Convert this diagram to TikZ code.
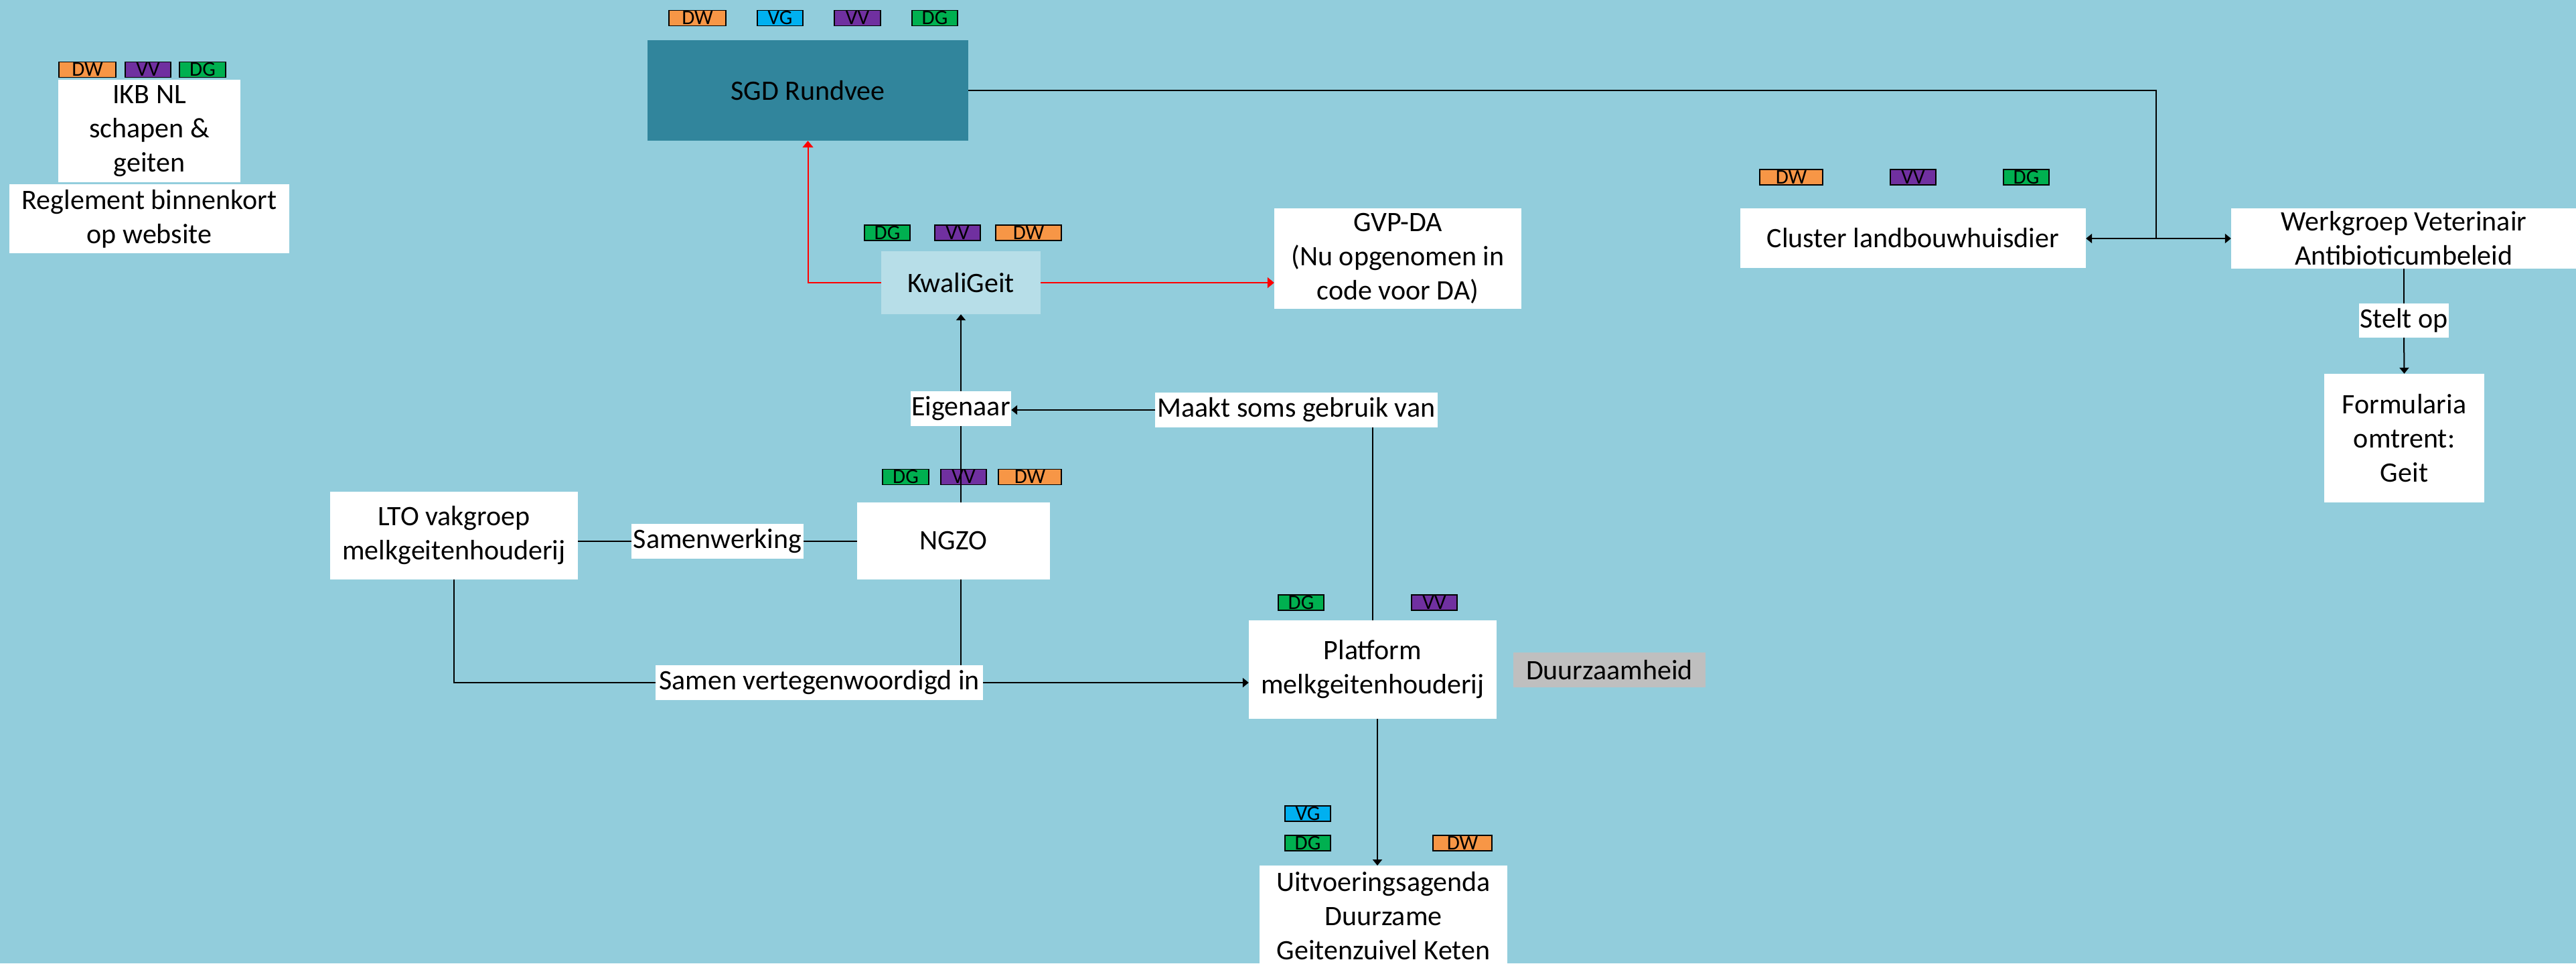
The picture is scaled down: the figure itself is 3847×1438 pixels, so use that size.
\documentclass[tikz,border=0pt]{standalone}
\usepackage{fontspec}
\setmainfont{Carlito}
\usetikzlibrary{arrows.meta,calc}
\definecolor{bgc}{HTML}{92CDDC}
\definecolor{sgdc}{HTML}{31859C}
\definecolor{kwalic}{HTML}{B7DEE8}
\definecolor{dwc}{HTML}{F79646}
\definecolor{vgc}{HTML}{00B0F0}
\definecolor{vvc}{HTML}{7030A0}
\definecolor{dgc}{HTML}{00B050}
\definecolor{grayc}{HTML}{BFBFBF}
\begin{document}
\begin{tikzpicture}[x=1pt,y=-1pt,
  box/.style={fill=white, inner sep=0pt, align=center, font=\fontsize{42}{51}\selectfont},
  tagbox/.style={draw=black, line width=1.5pt, inner sep=0pt, minimum height=23pt, font=\fontsize{31}{31}\selectfont},
  dw/.style={tagbox, fill=dwc},
  vg/.style={tagbox, fill=vgc},
  vv/.style={tagbox, fill=vvc},
  dg/.style={tagbox, fill=dgc},
  conn/.style={draw=black, line width=2pt},
  arr/.style={conn, -{Triangle[width=14pt,length=9pt]}},
  redarr/.style={draw=red, line width=2pt, -{Triangle[width=16pt,length=10pt]}},
]
\fill[bgc] (0,0) rectangle (3847,1438);
\useasboundingbox (0,0) rectangle (3847,1438);
\clip (0,0) rectangle (3847,1438);

% IKB
\node[dw, minimum width=85pt] (t1) at (130.5,104) {DW};
\node[vv, minimum width=68pt] (t2) at (221,104) {VV};
\node[dg, minimum width=69pt] (t3) at (302.5,104) {DG};
\node[box, minimum width=272pt, minimum height=153pt] (ikb) at (223,195.5) {IKB NL\\schapen \&\\geiten};
\node[box, minimum width=418pt, minimum height=103pt] (regl) at (223,326.5) {Reglement binnenkort\\op website};

% SGD
\node[dw, minimum width=85pt] (t4) at (1041.5,27) {DW};
\node[vg, minimum width=68pt] (t5) at (1165,27) {VG};
\node[vv, minimum width=69pt] (t6) at (1280.5,27) {VV};
\node[dg, minimum width=68pt] (t7) at (1396,27) {DG};
\node[box, fill=sgdc, minimum width=479pt, minimum height=150pt] (sgd) at (1206.5,135) {SGD Rundvee};

% KwaliGeit
\node[dg, minimum width=68pt] (t8) at (1325,347.5) {DG};
\node[vv, minimum width=68pt] (t9) at (1430,347.5) {VV};
\node[dw, minimum width=98pt] (t10) at (1536,347.5) {DW};
\node[box, fill=kwalic, minimum width=238pt, minimum height=94pt] (kwali) at (1435,422) {KwaliGeit};

\node[box, minimum width=369pt, minimum height=150pt] (gvp) at (2087.5,386) {GVP-DA\\(Nu opgenomen in\\code voor DA)};

% Cluster
\node[dw, minimum width=94pt] (t11) at (2675,264.5) {DW};
\node[vv, minimum width=68pt] (t12) at (2857,264.5) {VV};
\node[dg, minimum width=68pt] (t13) at (3026,264.5) {DG};
\node[box, minimum width=516pt, minimum height=89pt] (cluster) at (2857,355.5) {Cluster landbouwhuisdier};
\node[box, minimum width=516pt, minimum height=90pt] (werk) at (3590,356) {Werkgroep Veterinair\\Antibioticumbeleid};
\node[box, minimum width=134pt, minimum height=51pt] (stelt) at (3590,478.5) {Stelt op};
\node[box, minimum width=239pt, minimum height=192pt] (form) at (3590.5,654) {Formularia\\omtrent:\\Geit};

% middle
\node[box, minimum width=150pt, minimum height=52pt] (eigen) at (1435,610) {Eigenaar};
\node[box, minimum width=422pt, minimum height=52pt] (maakt) at (1936,612) {Maakt soms gebruik van};
\node[dg, minimum width=69pt] (t14) at (1352.5,712) {DG};
\node[vv, minimum width=68pt] (t15) at (1439,712) {VV};
\node[dw, minimum width=94pt] (t16) at (1538,712) {DW};
\node[box, minimum width=370pt, minimum height=131pt] (lto) at (678,799.5) {LTO vakgroep\\melkgeitenhouderij};
\node[box, minimum width=257pt, minimum height=52pt] (samenw) at (1071.5,808) {Samenwerking};
\node[box, minimum width=288pt, minimum height=115pt] (ngzo) at (1424,807.5) {NGZO};
\node[box, minimum width=489pt, minimum height=52pt] (samen) at (1223.5,1019) {Samen vertegenwoordigd in};

% Platform
\node[dg, minimum width=68pt] (t17) at (1943,899.5) {DG};
\node[vv, minimum width=68pt] (t18) at (2142,899.5) {VV};
\node[box, minimum width=370pt, minimum height=147pt] (platform) at (2050,999.5) {Platform\\melkgeitenhouderij};
\node[box, fill=grayc, minimum width=287pt, minimum height=52pt] (duurz) at (2403.5,1000) {Duurzaamheid};

% Uitvoeringsagenda
\node[vg, minimum width=68pt] (t19) at (1953,1214.5) {VG};
\node[dg, minimum width=68pt] (t20) at (1953,1258.5) {DG};
\node[dw, minimum width=88pt] (t21) at (2184,1258.5) {DW};
\node[box, anchor=north, minimum width=370pt, inner ysep=9pt] (uitv) at (2066,1292) {Uitvoeringsagenda\\Duurzame\\Geitenzuivel Keten};

% connectors
\draw[redarr] (kwali.west) -- (kwali.west -| sgd.south) -- (sgd.south);
\draw[redarr] (kwali.east) -- (kwali.east -| gvp.west);
\draw[arr] (eigen.north) -- (kwali.south);
\draw[conn] (ngzo.north -| eigen.south) -- (eigen.south);
\draw[arr] (maakt.west) -- (maakt.west -| eigen.east);
\draw[conn] (platform.north) -- (platform.north |- maakt.south);
\draw[conn] (samenw.west -| lto.east) -- (samenw.west);
\draw[conn] (samenw.east) -- (samenw.east -| ngzo.west);
\draw[conn] (lto.south) -- (lto.south |- samen.west) -- (samen.west);
\draw[arr] (samen.east) -- (samen.east -| platform.west);
\draw[conn] (ngzo.south -| eigen.south) -- (samen.north -| eigen.south);
\draw[arr] ($(platform.south)+(7,0)$) -- ($(platform.south |- uitv.north)+(7,0)$);
\coordinate (junc) at (3220,356);
\draw[conn] (sgd.east) -- (sgd.east -| junc) -- (junc);
\draw[arr] (junc) -- (junc -| cluster.east);
\draw[arr] (junc) -- (junc -| werk.west);
\draw[conn] (werk.south) -- (stelt.north);
\draw[arr] (stelt.south) -- (form.north);
\end{tikzpicture}
\end{document}
